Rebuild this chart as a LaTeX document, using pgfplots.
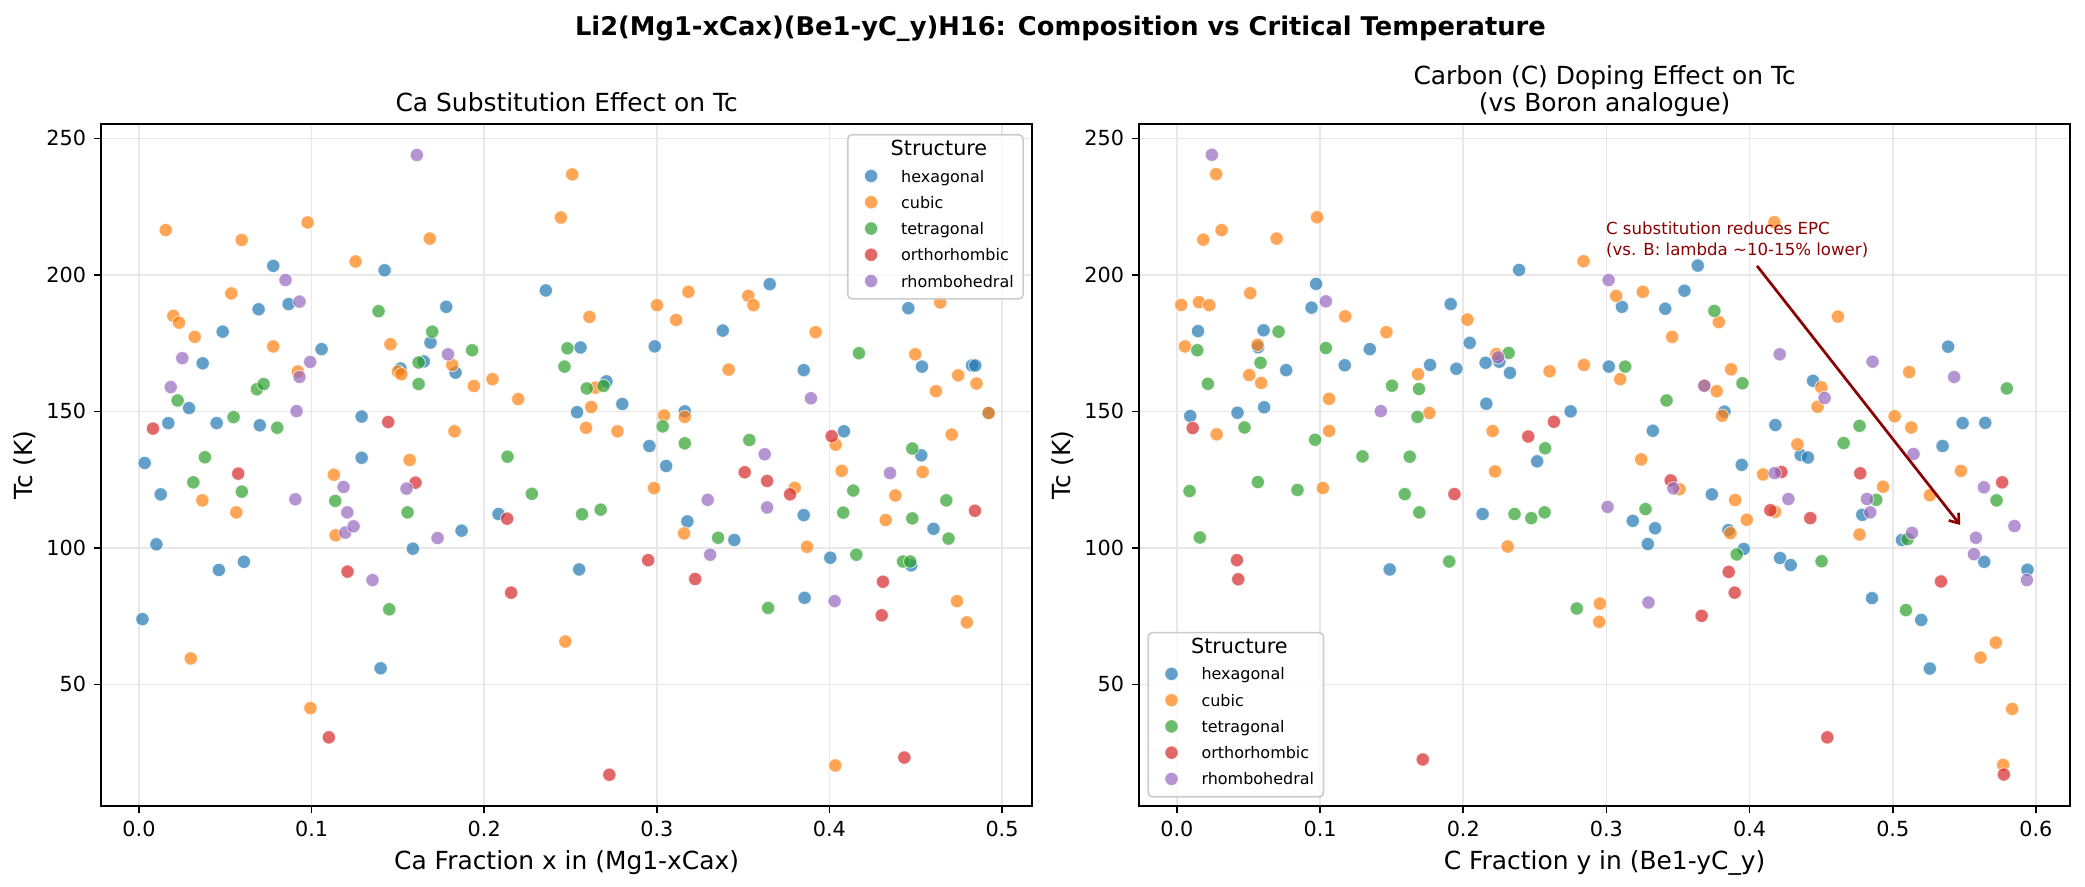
\documentclass[border=0pt]{standalone}
\usepackage{pgfplots}
\pgfplotsset{compat=1.18}
\usepackage{fontspec}
\setmainfont{DejaVu Sans}
\usetikzlibrary{arrows.meta}
\definecolor{tabblue}{HTML}{1F77B4}
\definecolor{taborange}{HTML}{FF7F0E}
\definecolor{tabgreen}{HTML}{2CA02C}
\definecolor{tabred}{HTML}{D62728}
\definecolor{tabpurple}{HTML}{9467BD}
\definecolor{annred}{HTML}{8B0000}
\tikzset{
  ttl/.style={anchor=base, inner sep=0pt, font=\fontsize{12}{14.4}\selectfont},
  ann/.style={anchor=base west, inner sep=0pt, text=annred, font=\fontsize{8}{9.6}\selectfont},
}
\pgfplotsset{
  sc/.style={only marks, mark=*, mark size=3.2bp,
    mark options={draw=white, line width=0.4bp, fill=#1, opacity=0.7}},
  base/.style={
    scale only axis, width=447bp, height=327.4bp, anchor=south west,
    ymin=5.45, ymax=255.3, clip mode=individual,
    axis line style={line width=0.8bp, black},
    every tick/.style={line width=0.8bp, black},
    major tick length=3.5bp, tick align=outside,
    xtick pos=bottom, ytick pos=left,
    grid=major, major grid style={line width=0.8bp, color=black!9},
    ticklabel style={font=\fontsize{10}{12}\selectfont},
    xticklabel style={anchor=north, inner sep=0pt, yshift=-3.5bp},
    yticklabel style={anchor=east, inner sep=0pt, xshift=-3.5bp},
    ytick={50,100,150,200,250}, yticklabels={50,100,150,200,250},
    label style={font=\fontsize{12}{14.4}\selectfont, inner sep=0pt},
    xlabel style={at={(axis description cs:0.5,-0.0929)}, anchor=base},
    ylabel style={at={(axis description cs:-0.0817,0.5)}, anchor=center},
    ylabel={Tc (K)},
    legend cell align=left,
    legend image code/.code={\draw[##1] plot coordinates {(0bp,0.7bp)};
      \pgfpathmoveto{\pgfqpoint{-6.7bp}{0bp}}\pgfpathlineto{\pgfqpoint{14.4bp}{0bp}}\pgfusepath{}},
    legend style={draw=black!20, line width=0.8bp, rounded corners=2bp,
      fill=white, fill opacity=0.8, text opacity=1,
      font=\fontsize{7.7}{9.2}\selectfont,
      inner xsep=4.5bp, inner ysep=3.6bp, row sep=4bp, column sep=0bp,
      nodes={inner sep=0pt, text height=6.5bp, text depth=2.1bp}},
  },
}
\begin{document}
\begin{tikzpicture}
\useasboundingbox (0bp,0bp) rectangle (1000.8bp,425.76bp);
\node[anchor=base, inner sep=0pt, font=\fontsize{12.4}{14.9}\selectfont\bfseries] at (509bp,408.7bp) {Li2(Mg1-xCax)(Be1-yC\_y)H16: Composition vs Critical Temperature};

\begin{axis}[base, at={(48.48bp,38.88bp)},
  xmin=-0.022, xmax=0.5175,
  xtick={0,0.1,0.2,0.3,0.4,0.5}, xticklabels={0.0,0.1,0.2,0.3,0.4,0.5},
  xlabel={Ca Fraction x in (Mg1-xCax)},
  legend style={at={(1,1)}, anchor=north east, xshift=-4bp, yshift=-4.8bp},
]
\addlegendimage{empty legend}\addlegendentry{\fontsize{10}{12}\selectfont\hspace{-5bp}Structure}
\addplot[sc=tabblue] coordinates {
(0.002,73.9)(0.0033,131.1)(0.0101,101.3)(0.0126,119.6)(0.017,145.7)(0.029,151.2)(0.0369,167.6)(0.045,145.7)
(0.0463,91.9)(0.0485,179.2)(0.0608,94.9)(0.0693,187.4)(0.070,144.9)(0.0778,203.3)(0.0867,189.3)(0.1058,172.8)
(0.129,148.1)(0.129,133.0)(0.140,55.9)(0.1423,201.7)(0.1515,165.7)(0.1587,99.7)(0.165,168.3)(0.1689,175.2)
(0.178,188.3)(0.1834,164.2)(0.1869,106.3)(0.2083,112.4)(0.2357,194.3)(0.2538,149.7)(0.255,92.1)(0.2558,173.4)
(0.2708,161.0)(0.280,152.7)(0.2957,137.3)(0.2988,173.8)(0.3054,130.0)(0.3162,150.0)(0.3177,109.7)(0.3382,179.6)
(0.3449,102.9)(0.3654,196.6)(0.3851,165.1)(0.3851,112.0)(0.3856,81.7)(0.4005,96.4)(0.4084,142.7)(0.4457,187.8)
(0.4474,93.6)(0.4532,133.9)(0.4536,166.4)(0.4603,107.0)(0.4826,166.8)(0.4845,166.8)(0.4922,149.4)
};
\addlegendentry{hexagonal}
\addplot[sc=taborange] coordinates {
(0.0155,216.4)(0.0199,185.0)(0.0232,182.5)(0.0323,177.3)(0.03,59.5)(0.0367,117.4)(0.0535,193.2)(0.0564,113.0)
(0.0595,212.8)(0.0778,173.8)(0.092,164.6)(0.0977,219.2)(0.0993,41.3)(0.1129,126.8)(0.1139,104.6)(0.1255,204.9)
(0.1457,174.6)(0.150,164.6)(0.152,163.6)(0.1568,132.2)(0.1685,213.3)(0.1815,167.0)(0.1828,142.7)(0.194,159.3)
(0.2048,161.8)(0.2197,154.5)(0.2444,221.0)(0.247,65.7)(0.251,236.8)(0.259,144.0)(0.261,184.6)(0.262,151.6)
(0.2644,158.7)(0.2772,142.7)(0.2984,121.9)(0.3001,188.9)(0.3042,148.5)(0.3112,183.5)(0.3158,105.3)(0.3162,148.0)
(0.3183,193.8)(0.3416,165.3)(0.353,192.3)(0.356,188.9)(0.3799,122.0)(0.387,100.4)(0.392,179.0)(0.4034,20.3)
(0.4036,137.8)(0.4071,128.2)(0.4326,110.2)(0.4382,119.2)(0.4497,170.9)(0.454,127.8)(0.4617,157.4)(0.4642,189.9)
(0.4708,141.5)(0.4739,80.5)(0.4746,163.2)(0.4796,72.7)(0.4852,160.2)(0.4922,149.4)
};
\addlegendentry{cubic}
\addplot[sc=tabgreen] coordinates {
(0.0224,154.0)(0.0315,124.0)(0.0382,133.2)(0.0548,147.9)(0.0596,120.6)(0.0683,158.1)(0.0722,160.0)(0.0801,144.0)
(0.1137,117.2)(0.1388,186.7)(0.145,77.5)(0.1556,113.0)(0.162,167.9)(0.162,160.0)(0.1699,179.2)(0.193,172.4)
(0.2135,133.4)(0.2276,119.8)(0.2465,166.4)(0.2482,173.1)(0.2567,112.3)(0.2594,158.4)(0.2675,114.0)(0.2691,159.3)
(0.3034,144.5)(0.3162,138.3)(0.3355,103.7)(0.3536,139.5)(0.3645,78.0)(0.408,112.9)(0.4138,121.0)(0.4156,97.5)
(0.4171,171.3)(0.4426,95.0)(0.4468,95.0)(0.448,136.4)(0.448,110.8)(0.4677,117.4)(0.469,103.4)
};
\addlegendentry{tetragonal}
\addplot[sc=tabred] coordinates {
(0.0081,143.7)(0.0575,127.2)(0.110,30.6)(0.1208,91.3)(0.1444,146.1)(0.1602,123.9)(0.2133,110.7)(0.2156,83.6)
(0.2725,16.9)(0.295,95.5)(0.3222,88.6)(0.3509,127.7)(0.3639,124.5)(0.3772,119.6)(0.4013,140.9)(0.4303,75.3)
(0.431,87.6)(0.4434,23.2)(0.4843,113.6)
};
\addlegendentry{orthorhombic}
\addplot[sc=tabpurple] coordinates {
(0.0184,158.9)(0.0251,169.5)(0.0849,198.1)(0.0906,117.8)(0.0913,150.1)(0.093,162.6)(0.093,190.2)(0.0992,168.1)
(0.1185,122.3)(0.1195,105.6)(0.1207,113.0)(0.1243,107.9)(0.1353,88.2)(0.155,121.7)(0.161,243.9)(0.173,103.6)
(0.179,170.9)(0.3295,117.6)(0.3309,97.5)(0.3625,134.3)(0.3639,114.8)(0.3893,154.8)(0.403,80.5)(0.4351,127.4)
};
\addlegendentry{rhombohedral}
\node[ttl] at (rel axis cs:0.5,1) [yshift=6bp] {Ca Substitution Effect on Tc};
\end{axis}

\begin{axis}[base, at={(546.72bp,38.88bp)},
  xmin=-0.0265, xmax=0.624,
  xtick={0,0.1,0.2,0.3,0.4,0.5,0.6}, xticklabels={0.0,0.1,0.2,0.3,0.4,0.5,0.6},
  xlabel={C Fraction y in (Be1-yC\_y)},
  legend style={at={(0,0)}, anchor=south west, xshift=4bp, yshift=4bp},
]
\addlegendimage{empty legend}\addlegendentry{\fontsize{10}{12}\selectfont\hspace{-5bp}Structure}
\addplot[sc=tabblue] coordinates {
(0.0093,148.3)(0.0147,179.4)(0.0423,149.5)(0.0567,173.5)(0.0605,179.7)(0.0609,151.5)(0.0763,165.1)(0.094,188.0)
(0.0972,196.7)(0.1172,166.9)(0.1347,172.8)(0.1486,92.1)(0.1768,167.0)(0.1912,189.3)(0.1952,165.6)(0.2045,175.1)
(0.2135,112.4)(0.2156,167.8)(0.2161,152.8)(0.2252,168.2)(0.2326,164.1)(0.239,201.8)(0.2516,131.7)(0.275,150.0)
(0.3017,166.4)(0.3108,188.3)(0.3184,109.9)(0.3289,101.4)(0.3324,142.9)(0.334,107.2)(0.3411,187.6)(0.3545,194.2)
(0.3638,203.4)(0.3736,119.6)(0.3824,149.9)(0.3852,106.5)(0.3945,130.4)(0.3959,99.6)(0.418,145.0)(0.4213,96.3)
(0.4287,93.7)(0.4357,134.0)(0.4408,133.1)(0.4443,161.2)(0.4787,112.1)(0.4855,81.6)(0.5064,102.9)(0.5199,73.6)
(0.5259,55.8)(0.5348,137.3)(0.5387,173.7)(0.5488,145.7)(0.5639,94.9)(0.5646,145.8)(0.5941,92.0)
};
\addlegendentry{hexagonal}
\addplot[sc=taborange] coordinates {
(0.003,189.0)(0.0056,173.8)(0.0154,190.0)(0.0184,212.9)(0.0226,188.9)(0.0274,236.9)(0.0277,141.6)(0.0312,216.4)
(0.0505,163.3)(0.0512,193.3)(0.0563,174.4)(0.0588,160.4)(0.0696,213.3)(0.0979,221.1)(0.1019,121.9)(0.1063,154.6)
(0.1063,142.8)(0.1175,184.8)(0.1463,179.0)(0.1684,163.6)(0.1763,149.4)(0.2029,183.6)(0.2205,142.8)(0.2222,128.0)
(0.2231,171.0)(0.231,100.5)(0.2603,164.7)(0.284,205.0)(0.2843,167.0)(0.2954,79.6)(0.295,72.9)(0.3068,192.3)
(0.3096,161.8)(0.3243,132.4)(0.3254,193.8)(0.3459,177.3)(0.351,121.5)(0.3684,159.4)(0.377,157.4)(0.3785,182.7)
(0.3808,148.4)(0.3866,105.4)(0.3871,165.4)(0.3899,117.5)(0.398,110.3)(0.4094,126.9)(0.4173,219.3)(0.4178,113.2)
(0.4334,137.9)(0.4475,151.7)(0.4501,158.8)(0.4617,184.7)(0.4768,104.9)(0.4932,122.4)(0.5013,148.2)(0.5115,164.4)
(0.5129,144.1)(0.5259,119.3)(0.5476,128.2)(0.5613,59.8)(0.572,65.3)(0.5771,20.5)(0.5834,41.0)
};
\addlegendentry{cubic}
\addplot[sc=tabgreen] coordinates {
(0.0088,120.8)(0.0142,172.4)(0.016,103.8)(0.0216,160.1)(0.0472,144.1)(0.0565,124.1)(0.0584,167.8)(0.071,179.2)
(0.0842,121.2)(0.0965,139.6)(0.104,173.2)(0.1296,133.5)(0.1502,159.4)(0.1591,119.7)(0.1626,133.4)(0.168,148.0)
(0.1691,158.2)(0.1693,113.0)(0.1902,95.0)(0.2317,171.4)(0.2358,112.4)(0.2475,110.9)(0.2568,113.0)(0.2572,136.5)
(0.2793,77.8)(0.3131,166.4)(0.3273,114.2)(0.342,154.0)(0.3754,186.8)(0.391,97.6)(0.395,160.3)(0.4503,95.1)
(0.4657,138.4)(0.4768,144.7)(0.4885,117.6)(0.5092,77.2)(0.5103,103.2)(0.5725,117.4)(0.5797,158.4)
};
\addlegendentry{tetragonal}
\addplot[sc=tabred] coordinates {
(0.011,143.9)(0.0419,95.5)(0.0428,88.5)(0.1717,22.5)(0.1938,119.7)(0.2454,140.8)(0.2633,146.2)(0.3449,124.7)
(0.3665,75.1)(0.3854,91.2)(0.3896,83.6)(0.4145,113.8)(0.4222,127.8)(0.4424,110.9)(0.4543,30.6)(0.4773,127.3)
(0.5337,87.7)(0.5764,124.0)(0.5776,17.0)
};
\addlegendentry{orthorhombic}
\addplot[sc=tabpurple] coordinates {
(0.0244,244.0)(0.104,190.3)(0.1424,150.1)(0.2243,169.8)(0.3008,115.0)(0.3015,198.1)(0.3294,80.0)(0.3468,121.8)
(0.3684,159.4)(0.4175,127.4)(0.421,170.9)(0.4271,117.9)(0.4524,154.9)(0.482,117.9)(0.4843,113.0)(0.4859,168.2)
(0.5134,105.5)(0.5145,134.4)(0.5429,162.6)(0.5567,97.7)(0.5581,103.7)(0.5637,122.2)(0.585,108.0)(0.5937,88.2)
};
\addlegendentry{rhombohedral}
\node[ttl] at (rel axis cs:0.5,1) [yshift=19bp] {Carbon (C) Doping Effect on Tc};
\node[ttl] at (rel axis cs:0.5,1) [yshift=6bp] {(vs Boron analogue)};
\node[ann] at (axis cs:0.2995,214.9) {C substitution reduces EPC};
\node[ann] at (axis cs:0.2995,207.2) {(vs. B: lambda \textasciitilde10-15\% lower)};
\draw[annred, line width=1.3bp, -{Straight Barb[length=4bp, width=6bp]}] (axis cs:0.4052,203.3) -- (axis cs:0.5471,108.4);
\end{axis}
\end{tikzpicture}
\end{document}
